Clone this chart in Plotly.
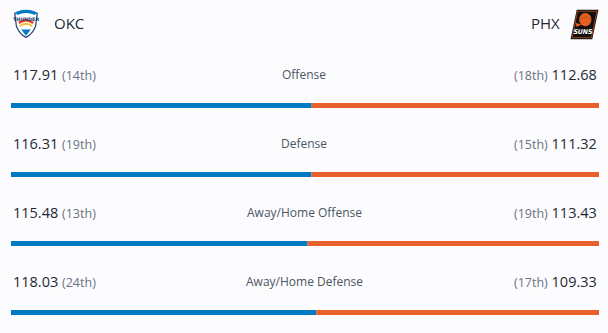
import base64
import plotly.graph_objects as go

# ---- data ----
teams = ["OKC", "PHX"]
categories = ["Offense", "Defense", "Away/Home Offense", "Away/Home Defense"]
okc_values = [117.91, 116.31, 115.48, 118.03]
okc_ranks = ["14th", "19th", "13th", "24th"]
phx_values = [112.68, 111.32, 113.43, 109.33]
phx_ranks = ["18th", "15th", "19th", "17th"]

# ---- style ----
W, H = 608, 333
ML, MR = 11, 9
BLUE = "#007AC1"
ORANGE = "#E8602C"
BG = "#fcfcfe"
DARK = "#1f2933"
GRAY = "#6b7280"
LABEL = "#4b5563"
FONT = "Open Sans"

ROW_TEXT_Y = [74 + 69 * i for i in range(4)]
ROW_BAR_Y = [105.5 + 69 * i for i in range(4)]

def px(xp):
    return (xp - ML) / (W - ML - MR)

okc_share = [o / (o + p) for o, p in zip(okc_values, phx_values)]
phx_share = [p / (o + p) for o, p in zip(okc_values, phx_values)]

fig = go.Figure()
fig.add_trace(go.Bar(y=ROW_BAR_Y, x=okc_share, orientation="h", width=5,
                     marker=dict(color=BLUE, line=dict(width=0)), hoverinfo="skip"))
fig.add_trace(go.Bar(y=ROW_BAR_Y, x=phx_share, base=okc_share, orientation="h", width=5,
                     marker=dict(color=ORANGE, line=dict(width=0)), hoverinfo="skip"))

ann = []
for i, cat in enumerate(categories):
    y = ROW_TEXT_Y[i]
    ann.append(dict(x=0, y=y, xref="x", yref="y", xanchor="left", yanchor="middle",
                    showarrow=False,
                    text=f"{okc_values[i]:.2f} <span style='font-size:12.5px;color:{GRAY}'>({okc_ranks[i]})</span>",
                    font=dict(family=FONT, size=14.5, color=DARK)))
    ann.append(dict(x=1, y=y, xref="x", yref="y", xanchor="right", yanchor="middle",
                    showarrow=False,
                    text=f"<span style='font-size:12.5px;color:{GRAY}'>({phx_ranks[i]})</span> {phx_values[i]:.2f}",
                    font=dict(family=FONT, size=14.5, color=DARK)))
    ann.append(dict(x=px(304), y=y, xref="x", yref="y", xanchor="center", yanchor="middle",
                    showarrow=False, text=cat,
                    font=dict(family=FONT, size=12, color=LABEL)))

# header team names
ann.append(dict(x=px(52), y=22.5, xref="x", yref="y", xanchor="left", yanchor="middle",
                showarrow=False, text=teams[0], font=dict(family=FONT, size=15, color=DARK)))
ann.append(dict(x=px(562), y=22.5, xref="x", yref="y", xanchor="right", yanchor="middle",
                showarrow=False, text=teams[1], font=dict(family=FONT, size=15, color=DARK)))

# simple logo sketches (inline SVG)
okc_svg = """<svg xmlns='http://www.w3.org/2000/svg' viewBox='0 0 40 40'>
<path d='M6 8 Q20 2 34 8 L32 24 Q28 34 20 38 Q12 34 8 24 Z' fill='white' stroke='#1d3f73' stroke-width='1.5'/>
<path d='M8 8 Q20 3 32 8' fill='none' stroke='#007AC1' stroke-width='4'/>
<path d='M11 20 Q20 13 29 20' fill='none' stroke='#EF3B24' stroke-width='3'/>
<path d='M12 24 Q20 18 28 24' fill='none' stroke='#FDBB30' stroke-width='2.5'/>
<path d='M14 28 L26 28 L20 36 Z' fill='#007AC1'/>
<text x='20' y='17' font-size='6' text-anchor='middle' fill='#1d3f73' font-family='DejaVu Sans' font-weight='bold'>THUNDER</text>
</svg>"""
phx_svg = """<svg xmlns='http://www.w3.org/2000/svg' viewBox='0 0 40 40'>
<path d='M10 2 L38 2 L30 38 L2 38 Z' fill='#111'/>
<path d='M11 4 L36 4 L29 36 L4 36 Z' fill='none' stroke='#E56020' stroke-width='0.8'/>
<circle cx='21' cy='14' r='8' fill='#E56020'/>
<path d='M14 14 Q21 8 28 14' fill='none' stroke='#B95915' stroke-width='1.5'/>
<path d='M8 18 L16 20 L10 23 Z' fill='#E56020'/>
<text x='18' y='32' font-size='8' text-anchor='middle' fill='white' font-family='DejaVu Sans' font-weight='bold' font-style='italic'>SUNS</text>
</svg>"""

def uri(svg):
    return "data:image/svg+xml;base64," + base64.b64encode(svg.encode()).decode()

images = [
    dict(source=uri(okc_svg), xref="x", yref="y", x=px(10), y=7, sizex=px(42) - px(10), sizey=32,
         xanchor="left", yanchor="top", sizing="stretch", layer="above"),
    dict(source=uri(phx_svg), xref="x", yref="y", x=px(569), y=8, sizex=px(600) - px(569), sizey=33,
         xanchor="left", yanchor="top", sizing="stretch", layer="above"),
]

fig.update_layout(
    width=W, height=H,
    margin=dict(l=ML, r=MR, t=0, b=0, pad=0),
    paper_bgcolor=BG, plot_bgcolor=BG,
    barmode="overlay", showlegend=False,
    xaxis=dict(range=[0, 1], visible=False, fixedrange=True),
    yaxis=dict(range=[H, 0], visible=False, fixedrange=True),
    annotations=ann, images=images,
)

fig.write_html("out.html", config={"displayModeBar": False})
